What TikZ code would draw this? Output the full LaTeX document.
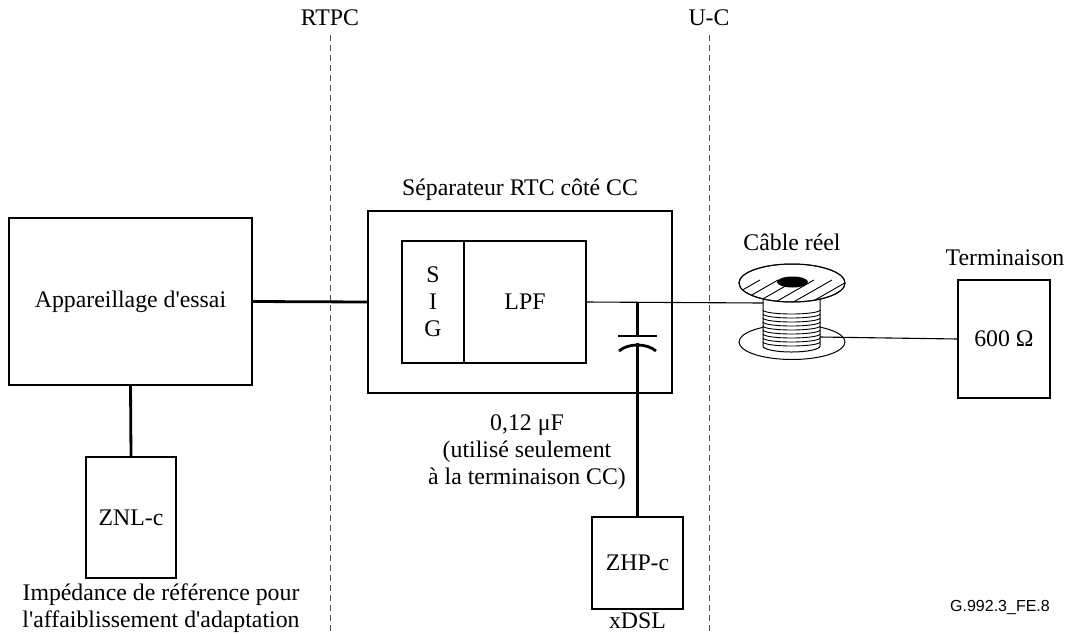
\documentclass[tikz,border=0pt]{standalone}
\usepackage{fontspec}
\setmainfont{Liberation Serif}[Ligatures=TeXOff]
\newfontfamily\labelsans{Liberation Sans}[Ligatures=TeXOff]
\begin{document}
\begin{tikzpicture}[x=1pt,y=-1pt,
  every node/.style={font=\fontsize{23.8}{27}\selectfont, inner sep=0pt, outer sep=0pt},
  heavybox/.style={draw, line width=2.8pt, rectangle},
  lightbox/.style={draw, line width=1.2pt, rectangle},
  heavyline/.style={line width=2.8pt},
  lightline/.style={line width=1.1pt},
  refline/.style={draw=black!70, line width=1pt, dash pattern=on 6pt off 4pt},
  reel/.style={line width=1pt, fill=white}]
\useasboundingbox (0,0) rectangle (1066,633);

% reference points
\draw[refline] (330,35) -- (330,633);
\draw[refline] (709,35) -- (709,633);
\node (rtpc) at (330,18) {RTPC};
\node (uc) at (709,18) {U-C};

% test equipment and its reference impedance
\node[heavybox, minimum width=243pt, minimum height=167pt] (app) at (130.5,301.5) {Appareillage d'essai};
\node[heavybox, minimum width=90pt, minimum height=121pt] (znl) at (131,517.5) {ZNL-c};
\node[align=center] (znltext) at (161,608) {Impédance de référence pour\\l'affaiblissement d'adaptation};

% splitter
\node[lightbox, minimum width=304pt, minimum height=182pt] (sep) at (520,302) {};
\node (septext) at (520,190) {Séparateur RTC côté CC};
\node[heavybox, minimum width=62pt, minimum height=122pt, align=center] (sig) at (433,302) {S\\I\\G};
\node[heavybox, minimum width=122pt, minimum height=122pt] (lpf) at (525,302) {LPF};

% high-pass side
\node[heavybox, minimum width=91pt, minimum height=92pt] (zhp) at (637.5,563) {ZHP-c};
\node (xdsl) at (637.5,621) {xDSL};
\node[align=center] (captext) at (527,452) {0,12 μF\\(utilisé seulement\\à la terminaison CC)};

% termination
\node[heavybox, minimum width=92pt, minimum height=118pt] (term) at (1004,339) {600 Ω};
\node (termtext) at (1005,258) {Terminaison};

% cable reel
\node (reeltext) at (792,242) {Câble réel};
\coordinate (reelL) at (763,303);
\coordinate (reelR) at (820,337);
\draw[reel] (792,342) ellipse [x radius=53, y radius=17.5];
\draw[reel] (763,290) -- (763,346) arc[start angle=180, end angle=0, x radius=28.5, y radius=6] -- (820,290);
\foreach \yk in {310,314,...,342}
  \draw[line width=0.9pt] (763,\yk) arc[start angle=180, end angle=0, x radius=28.5, y radius=4];
\draw[reel] (792,283) ellipse [x radius=53, y radius=19];
\begin{scope}
  \clip (792,283) ellipse [x radius=53, y radius=19];
  \foreach \xk in {690,708,...,870}
    \draw[line width=0.9pt] (\xk,320) -- (\xk+70,280);
\end{scope}
\draw[line width=1pt] (792,283) ellipse [x radius=53, y radius=19];
\fill (792.5,282) ellipse [x radius=15.5, y radius=5.5];

% connections
\draw[heavyline] (app.east) -- (sep.west);
\draw[heavyline] (app.south) -- (znl.north);
\draw[lightline] (lpf.east) -- (reelL);
\draw[lightline] (reelR) -- (term.west);

% coupling capacitor
\coordinate (cj) at (637.5,303);
\coordinate (plate) at (637.5,336);
\coordinate (curve) at (637.5,343);
\draw[heavyline] (cj) -- (plate);
\draw[heavyline] (618,336) -- (657,336);
\draw[heavyline] (619,351) .. controls (628,343) and (647,343) .. (656,351);
\draw[heavyline] (curve) -- (zhp.north);

% figure reference
\node[font=\labelsans\fontsize{16}{18}\selectfont] (figref) at (1000,607) {G.992.3\_FE.8};
\end{tikzpicture}
\end{document}
